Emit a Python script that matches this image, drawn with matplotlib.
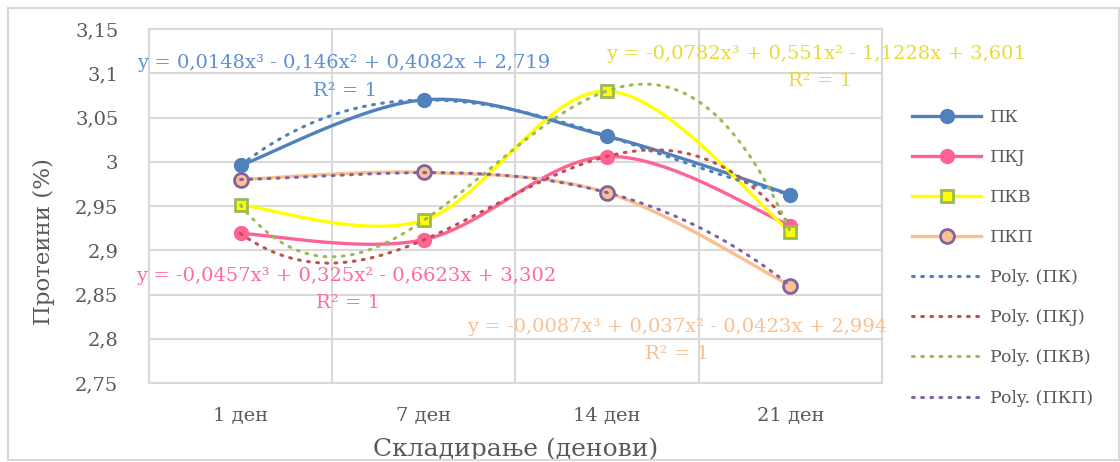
import matplotlib.pyplot as plt
from matplotlib.lines import Line2D
from matplotlib.patches import Rectangle
import numpy as np

plt.rcParams['font.family'] = ['DejaVu Serif']

days = ['1 ден', '7 ден', '14 ден', '21 ден']
names = ['ПК', 'ПКЈ', 'ПКВ', 'ПКП']

pk = [2.996, 3.070, 3.029, 2.963]
pkj = [2.919, 2.912, 3.006, 2.928]
pkv = [2.951, 2.934, 3.080, 2.921]
pkp = [2.980, 2.988, 2.965, 2.860]

# cubic trendline coefficients (x^3, x^2, x, 1)
fit_pk = [0.0148, -0.146, 0.4082, 2.719]
fit_pkj = [-0.0457, 0.325, -0.6623, 3.302]
fit_pkv = [-0.0782, 0.551, -1.1228, 3.601]
fit_pkp = [-0.0087, 0.037, -0.0423, 2.994]

line_colors = ['#4F81BD', '#FF6396', '#FFFF00', '#FAC090']
marker_face = ['#4F81BD', '#FF6396', '#FFFF00', '#FAC090']
marker_edge = ['#4F81BD', '#FF6396', '#9BBB59', '#8064A2']
markers = ['o', 'o', 's', 'o']
trend_colors = ['#4F81BD', '#C0504D', '#9BBB59', '#8064A2']
eq_colors = ['#5B8FD6', '#FF6B9A', '#E8DA3A', '#FAC090']


def smooth(x, y, n=40):
    # Catmull-Rom style smoothing like spreadsheet "smoothed line"
    x = np.asarray(x, float)
    y = np.asarray(y, float)
    px = np.concatenate([[x[0]], x, [x[-1]]])
    py = np.concatenate([[y[0]], y, [y[-1]]])
    xs, ys = [], []
    t = np.linspace(0, 1, n)
    for i in range(1, len(px) - 2):
        p0 = np.array([px[i], py[i]])
        p3 = np.array([px[i + 1], py[i + 1]])
        c1 = p0 + (np.array([px[i + 1], py[i + 1]]) - np.array([px[i - 1], py[i - 1]])) / 6
        c2 = p3 - (np.array([px[i + 2], py[i + 2]]) - p0) / 6
        b = ((1 - t) ** 3)[:, None] * p0 + (3 * (1 - t) ** 2 * t)[:, None] * c1 \
            + (3 * (1 - t) * t ** 2)[:, None] * c2 + (t ** 3)[:, None] * p3
        xs.extend(b[:, 0])
        ys.extend(b[:, 1])
    return np.array(xs), np.array(ys)


def fmt(v):
    return ('%g' % v).replace('.', ',')


def equation(c):
    parts = ['y = ' + ('-' if c[0] < 0 else '') + fmt(abs(c[0])) + 'x³']
    for val, suf in zip(c[1:], ['x²', 'x', '']):
        sign = ' - ' if val < 0 else ' + '
        parts.append(sign + fmt(abs(val)) + suf)
    return ''.join(parts)


fig = plt.figure(figsize=(11.2, 4.62), dpi=100)
ax = fig.add_axes([0.1330, 0.171, 0.6545, 0.766])

fig.patches.append(Rectangle((0.007, 0.004), 0.992, 0.978, transform=fig.transFigure,
                             fill=False, edgecolor='#D9D9D9', linewidth=1.5))

x = np.arange(1, 5)
series = [pk, pkj, pkv, pkp]
fits = [fit_pk, fit_pkj, fit_pkv, fit_pkp]

for i, vals in enumerate(series):
    sx, sy = smooth(x, vals)
    ax.plot(sx, sy, color=line_colors[i], lw=2.4, zorder=3, solid_capstyle='round')
    ax.plot(x, vals, linestyle='none', marker=markers[i], markersize=10 if markers[i] == 'o' else 9,
            markerfacecolor=marker_face[i], markeredgecolor=marker_edge[i],
            markeredgewidth=2 if i >= 2 else 1, zorder=4)

xf = np.linspace(1, 4, 200)
for i, c in enumerate(fits):
    ax.plot(xf, np.polyval(c, xf), color=trend_colors[i], lw=2.2,
            linestyle=(0, (0.6, 2.4)), dash_capstyle='round', zorder=5)

# trendline equations
eq_pos = [(137, 63, 345, 91), (136, 276, 348, 303), (606, 54, 820, 81), (467, 327, 677, 354)]
for i, c in enumerate(fits):
    ex, ey, rx, ry = eq_pos[i]
    fig.text(ex / 1120, 1 - ey / 462, equation(c), color=eq_colors[i], fontsize=14,
             ha='left', va='center', zorder=6)
    fig.text(rx / 1120, 1 - ry / 462, 'R² = 1', color=eq_colors[i], fontsize=14,
             ha='center', va='center', zorder=6)

ax.set_xlim(0.5, 4.5)
ax.set_ylim(2.75, 3.15)
ax.set_xticks(x)
ax.set_xticklabels(days)
ax.set_xticks(np.arange(0.5, 4.6, 1), minor=True)
yt = np.arange(2.75, 3.151, 0.05)
ax.set_yticks(yt)
ax.set_yticklabels([fmt(round(v, 2)) for v in yt])
ax.grid(True, which='minor', axis='x', color='#D9D9D9', lw=1.5)
ax.grid(True, which='major', axis='y', color='#D9D9D9', lw=1.5)
ax.tick_params(which='both', length=0, labelsize=14, colors='#595959')
ax.tick_params(axis='x', pad=17)
ax.tick_params(axis='y', pad=22)
for s in ax.spines.values():
    s.set_color('#D9D9D9')
    s.set_linewidth(1.5)
ax.set_axisbelow(True)

ax.set_xlabel('Складирање (денови)', fontsize=18, color='#595959', labelpad=9)
ax.set_ylabel('Протеини (%)', fontsize=16.5, color='#595959')
ax.yaxis.set_label_coords(-0.128, 0.40)

handles = []
for i in range(4):
    handles.append(Line2D([], [], color=line_colors[i], lw=2.4, marker=markers[i],
                          markersize=10 if markers[i] == 'o' else 9,
                          markerfacecolor=marker_face[i], markeredgecolor=marker_edge[i],
                          markeredgewidth=2 if i >= 2 else 1))
for i in range(4):
    handles.append(Line2D([], [], color=trend_colors[i], lw=2.2,
                          linestyle=(0, (0.6, 2.4)), dash_capstyle='round'))
labels = names + ['Poly. (' + n + ')' for n in names]
leg = fig.legend(handles, labels, loc='upper left', bbox_to_anchor=(905 / 1120, 1 - 102 / 462),
                 frameon=False, fontsize=12.5, handlelength=4, labelspacing=1.33,
                 handletextpad=0.5, borderaxespad=0)
for t in leg.get_texts():
    t.set_color('#595959')

fig.savefig('out.png', dpi=100)
